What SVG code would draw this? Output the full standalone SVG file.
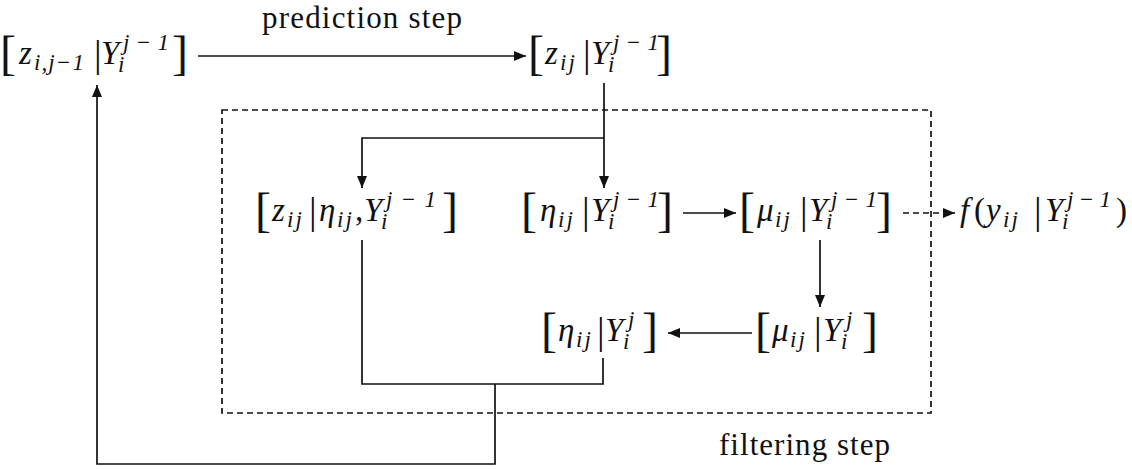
<svg xmlns="http://www.w3.org/2000/svg" width="1132" height="469" viewBox="0 0 1132 469">
<style>
text{font-family:"Liberation Serif","Times New Roman",serif;fill:#111}
.m{font-style:italic;font-size:33px}
.s{font-style:italic;font-size:23px}
.ss{font-style:italic;font-size:23px;letter-spacing:2px}
.r{font-size:33px}
.b{font-size:48px}
.bar{font-size:38px}
.lbl{font-size:31px}
.ln{fill:none;stroke:#111;stroke-width:1.7}
.dsh{fill:none;stroke:#111;stroke-width:1.7;stroke-dasharray:6 4}
</style>
<defs>
<marker id="ah" viewBox="0 0 12 10" refX="12" refY="5" markerWidth="12" markerHeight="10" markerUnits="userSpaceOnUse" orient="auto">
<path d="M0,0 L12,5 L0,10 z" fill="#111"/>
</marker>
</defs>
<rect width="1132" height="469" fill="#fff"/>

<g id="frame">
<rect x="222" y="110" width="709" height="303" class="dsh"/>
<text class="lbl" x="719" y="455" textLength="171">filtering step</text>
</g>

<g id="connectors">
<line class="ln" x1="198" y1="56" x2="526" y2="56" marker-end="url(#ah)"/>
<text class="lbl" x="262" y="28" textLength="200">prediction step</text>
<line class="ln" x1="604" y1="83" x2="604" y2="188" marker-end="url(#ah)"/>
<polyline class="ln" points="604,138 362,138 362,188" marker-end="url(#ah)"/>
<line class="ln" x1="683" y1="213" x2="736" y2="213" marker-end="url(#ah)"/>
<line class="dsh" x1="903" y1="213" x2="955" y2="213" marker-end="url(#ah)"/>
<line class="ln" x1="820" y1="240" x2="820" y2="307" marker-end="url(#ah)"/>
<line class="ln" x1="752" y1="333" x2="668" y2="333" marker-end="url(#ah)"/>
<polyline class="ln" points="362,240 362,384 603,384 603,358"/>
<polyline class="ln" points="495,384 495,464 97,464 97,85" marker-end="url(#ah)"/>
</g>

<g id="nodeA">
<text class="b" x="0" y="69">[</text>
<text class="m" x="19" y="64">z</text>
<text class="s" x="34" y="70" textLength="50">i,j−1</text>
<text class="bar" x="94" y="67">|</text>
<text class="m" x="101" y="64">Y</text>
<text class="s" x="123" y="50" textLength="46">j−1</text>
<text class="s" x="118" y="72">i</text>
<text class="b" x="172" y="69">]</text>
</g>

<g id="nodeB">
<text class="b" x="528" y="69">[</text>
<text class="m" x="545" y="64">z</text>
<text class="ss" x="560" y="70">ij</text>
<text class="bar" x="583" y="67">|</text>
<text class="m" x="591" y="64">Y</text>
<text class="s" x="613" y="50" textLength="46">j−1</text>
<text class="s" x="608" y="72">i</text>
<text class="b" x="656" y="69">]</text>
</g>

<g id="nodeC">
<text class="b" x="255" y="226">[</text>
<text class="m" x="272" y="221">z</text>
<text class="ss" x="287" y="227">ij</text>
<text class="bar" x="309" y="224">|</text>
<text class="m" x="319" y="221">η</text>
<text class="ss" x="337" y="227">ij</text>
<text class="r" x="355" y="221">,</text>
<text class="m" x="364" y="221">Y</text>
<text class="s" x="386" y="207" textLength="50">j−1</text>
<text class="s" x="381" y="229">i</text>
<text class="b" x="442" y="226">]</text>
</g>

<g id="nodeD">
<text class="b" x="521" y="226">[</text>
<text class="m" x="540" y="221">η</text>
<text class="ss" x="558" y="227">ij</text>
<text class="bar" x="582" y="224">|</text>
<text class="m" x="591" y="221">Y</text>
<text class="s" x="613" y="207" textLength="46">j−1</text>
<text class="s" x="608" y="229">i</text>
<text class="b" x="657" y="226">]</text>
</g>

<g id="nodeE">
<text class="b" x="739" y="226">[</text>
<text class="m" x="757" y="221">μ</text>
<text class="ss" x="775" y="227">ij</text>
<text class="bar" x="800" y="224">|</text>
<text class="m" x="809" y="221">Y</text>
<text class="s" x="831" y="207" textLength="46">j−1</text>
<text class="s" x="826" y="229">i</text>
<text class="b" x="876" y="226">]</text>
</g>

<g id="nodeF">
<text class="m" x="960" y="221">f</text>
<text class="r" x="974" y="221">(</text>
<text class="m" x="986" y="221">y</text>
<text class="ss" x="1003" y="227">ij</text>
<text class="bar" x="1034" y="224">|</text>
<text class="m" x="1045" y="221">Y</text>
<text class="s" x="1067" y="207" textLength="44">j−1</text>
<text class="s" x="1062" y="229">i</text>
<text class="r" x="1116" y="221">)</text>
</g>

<g id="nodeH">
<text class="b" x="541" y="346">[</text>
<text class="m" x="558" y="341">η</text>
<text class="ss" x="576" y="347">ij</text>
<text class="bar" x="597" y="344">|</text>
<text class="m" x="605" y="341">Y</text>
<text class="s" x="628" y="327">j</text>
<text class="s" x="623" y="349">i</text>
<text class="b" x="642" y="346">]</text>
</g>

<g id="nodeG">
<text class="b" x="755" y="346">[</text>
<text class="m" x="772" y="341">μ</text>
<text class="ss" x="790" y="347">ij</text>
<text class="bar" x="814" y="344">|</text>
<text class="m" x="823" y="341">Y</text>
<text class="s" x="846" y="327">j</text>
<text class="s" x="841" y="349">i</text>
<text class="b" x="862" y="346">]</text>
</g>
</svg>
